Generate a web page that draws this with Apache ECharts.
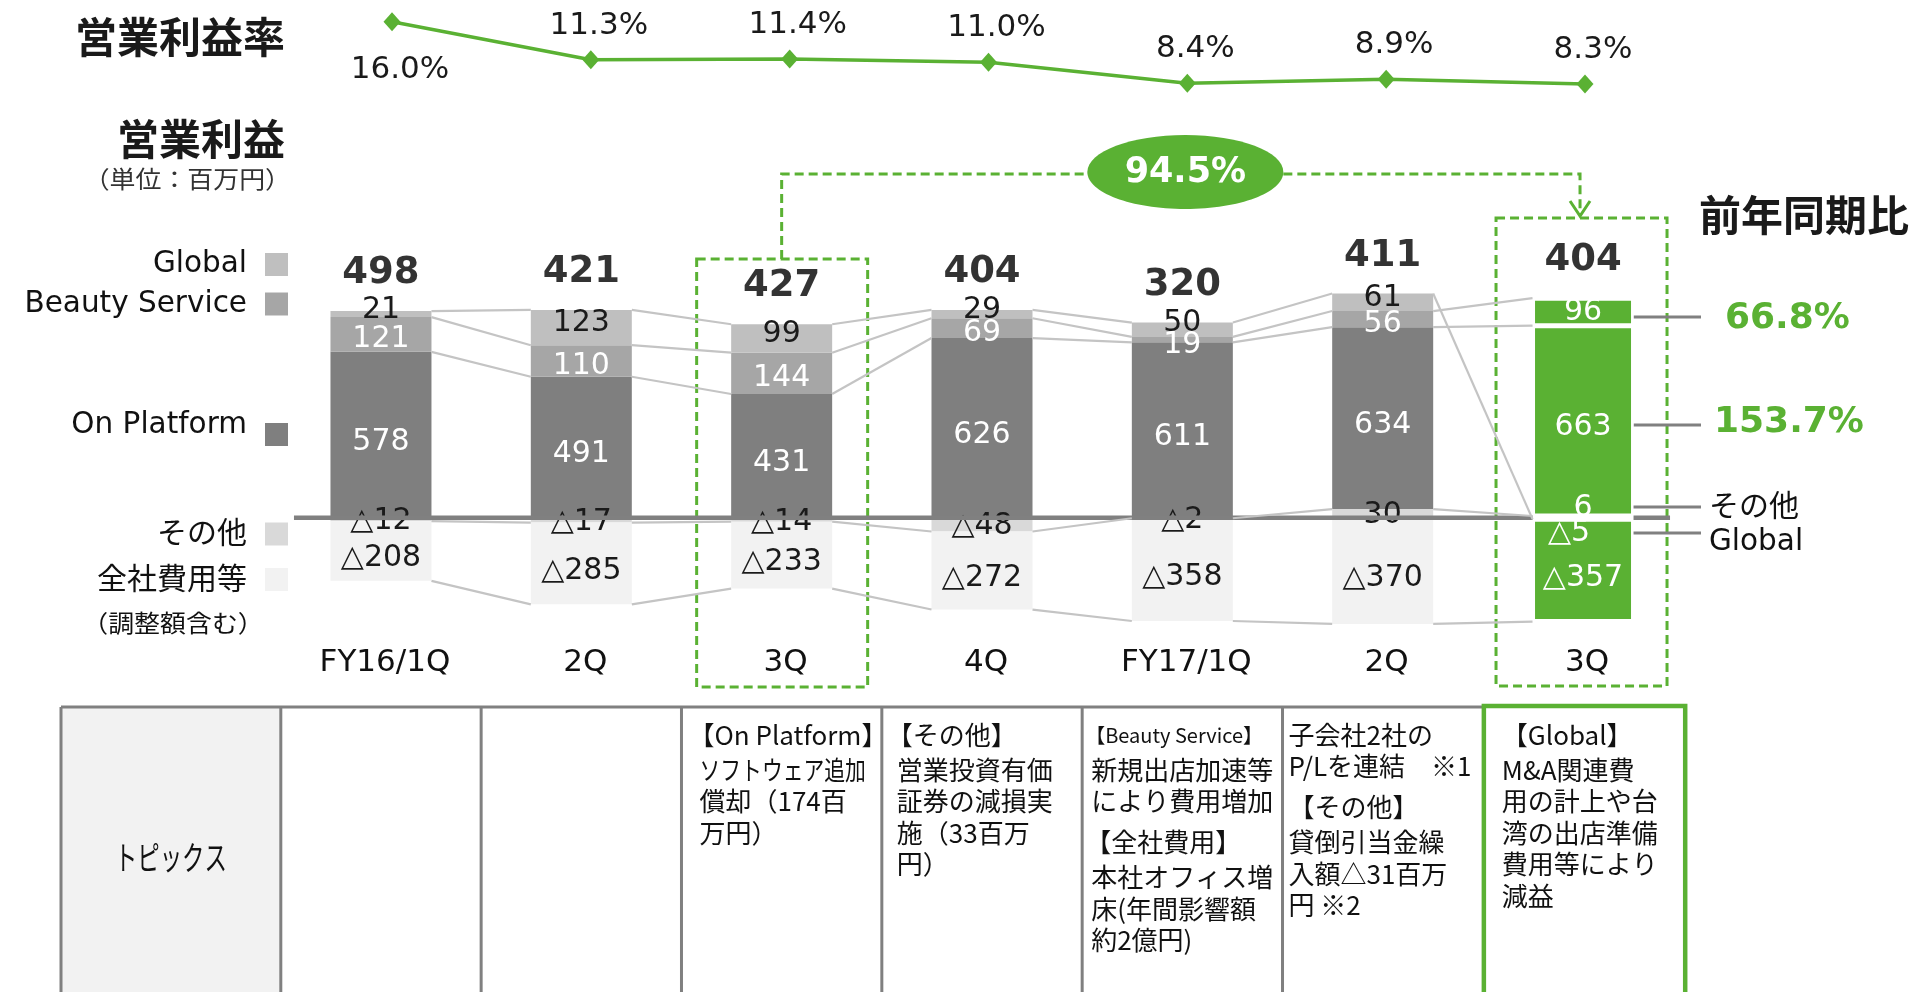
<!DOCTYPE html>
<html>
<head>
<meta charset="utf-8">
<title>営業利益</title>
<script src="https://cdn.jsdelivr.net/npm/echarts@6.0.0/dist/echarts.min.js"></script>
<style>
  html, body { margin: 0; padding: 0; background: #fff; }
  #main { width: 1914px; height: 992px; }
</style>
</head>
<body>
<div id="main"></div>
<script>
// ---- data ----
const quarters = ['FY16/1Q', '2Q', '3Q', '4Q', 'FY17/1Q', '2Q', '3Q']
const marginRate = [16.0, 11.3, 11.4, 11.0, 8.4, 8.9, 8.3]
const globalSeg = [21, 123, 99, 29, 50, 61, -5]
const beauty = [121, 110, 144, 69, 19, 56, 96]
const onPlatform = [578, 491, 431, 626, 611, 634, 663]
const others = [-12, -17, -14, -48, -2, 30, 6]
const corporate = [-208, -285, -233, -272, -358, -370, -357]
const totals = [498, 421, 427, 404, 320, 411, 404]
const yoyTotal = '94.5%'
const yoyBeauty = '66.8%'
const yoyOnPlatform = '153.7%'
const topics = [
  null,
  null,
  [{ head: '【On Platform】', body: ['ソフトウェア追加', '償却（174百', '万円）'] }],
  [{ head: '【その他】', body: ['営業投資有価', '証券の減損実', '施（33百万', '円）'] }],
  [{ head: '【Beauty Service】', body: ['新規出店加速等', 'により費用増加'] },
    { head: '【全社費用】', body: ['本社オフィス増', '床(年間影響額', '約2億円)'] }],
  [{ head: null, body: ['子会社2社の', 'P/Lを連結　※1'] },
    { head: '【その他】', body: ['貸倒引当金繰', '入額△31百万', '円 ※2'] }],
  [{ head: '【Global】', body: ['M&A関連費', '用の計上や台', '湾の出店準備', '費用等により', '減益'] }]
]

// ---- styles ----
const GREEN = '#5ab133'
const DARK_LINE = '#808080'
const NUM_FONT = 'DejaVu Sans'
const JP_FONT = '"Noto Sans CJK JP", sans-serif'
const BAR_W = 101
const HL = 6 // 比較対象の四半期（緑）
const CMP = 2 // 前年同期

// stack order from the baseline outwards
const segments = [
  { name: 'その他', data: others, color: '#d9d9d9', text: '#1a1a1a', dy: 2, lastDy: -9, lastDx: 0 },
  { name: 'On Platform', data: onPlatform, color: '#7f7f7f', text: '#fff', dy: 7, lastDy: 6, lastDx: 0 },
  { name: 'Beauty Service', data: beauty, color: '#a6a6a6', text: '#fff', dy: 5, lastDy: 0, lastDx: 0 },
  { name: 'Global', data: globalSeg, color: '#bfbfbf', text: '#1a1a1a', dy: -4, lastDy: 15, lastDx: -14 },
  { name: '全社費用等', data: corporate, color: '#f2f2f2', text: '#1a1a1a', dy: 7.5, lastDy: 7.5, lastDx: 0 }
]
// 小さいセグメントのラベル重なり回避
const nudge = { Global: { 4: -3 }, 'Beauty Service': { 4: 1 } }

const fmt = v => (v < 0 ? '△' + (-v) : String(v))

// end value of every segment in its own sign stack (for the series lines)
function segmentEnds (i) {
  let pos = 0
  let neg = 0
  return segments.map(s => {
    const v = s.data[i]
    if (v >= 0) { pos += v; return pos }
    neg += v
    return neg
  })
}
const positiveTotal = quarters.map((q, i) => segments.reduce((a, s) => a + Math.max(0, s.data[i]), 0))

function renderLinks (params, api) {
  const i = params.dataIndex
  const half = BAR_W / 2
  const kids = []
  if (i < quarters.length - 1) {
    const a = segmentEnds(i)
    const b = segmentEnds(i + 1)
    a.forEach((v, k) => {
      const p = api.coord([i, v])
      const q = api.coord([i + 1, b[k]])
      kids.push({
        type: 'line',
        shape: { x1: p[0] + half, y1: p[1], x2: q[0] - half, y2: q[1] },
        style: { stroke: '#c4c4c4', lineWidth: 2.2 }
      })
    })
  }
  if (i === 0) {
    // baseline, broken by the highlighted bar
    const z0 = api.coord([0, 0])
    const zl = api.coord([HL, 0])
    kids.push({ type: 'line', shape: { x1: z0[0] - 87, y1: z0[1], x2: zl[0] - half, y2: z0[1] }, style: { stroke: DARK_LINE, lineWidth: 4.5 } })
    kids.push({ type: 'line', shape: { x1: zl[0] + half, y1: z0[1], x2: zl[0] + 87, y2: z0[1] }, style: { stroke: DARK_LINE, lineWidth: 4.5 } })
  }
  return { type: 'group', children: kids }
}

const barSeries = segments.map(s => ({
  name: s.name,
  type: 'bar',
  stack: 'op',
  xAxisIndex: 1,
  yAxisIndex: 1,
  barWidth: BAR_W,
  z: 2,
  itemStyle: { color: s.color },
  label: {
    show: true,
    position: 'inside',
    fontFamily: NUM_FONT,
    fontSize: 30,
    formatter: p => fmt(p.value)
  },
  data: s.data.map((v, i) => {
    const last = i === HL
    const extra = (nudge[s.name] && nudge[s.name][i]) || 0
    return {
      value: v,
      itemStyle: last ? { color: GREEN, borderColor: '#fff', borderWidth: 2.5 } : undefined,
      label: {
        color: last ? '#fff' : s.text,
        offset: last ? [s.lastDx, s.lastDy] : [0, s.dy + extra]
      }
    }
  })
}))

const option = {
  animation: false,
  backgroundColor: '#fff',
  grid: [
    { left: 292.6, width: 1391.8, top: 5.5, height: 97.1 },
    { left: 280.8, width: 1402.4, top: 288.1, height: 344.4 }
  ],
  xAxis: [
    { type: 'category', gridIndex: 0, data: quarters, show: false },
    {
      type: 'category',
      gridIndex: 1,
      data: quarters,
      axisLine: { show: false },
      axisTick: { show: false },
      axisLabel: { margin: 15, fontSize: 31, color: '#111', fontFamily: NUM_FONT, padding: [0, 0, 0, 8] }
    }
  ],
  yAxis: [
    { type: 'value', gridIndex: 0, min: 6, max: 18, show: false },
    { type: 'value', gridIndex: 1, min: -400, max: 800, show: false }
  ],
  series: [
    {
      name: '営業利益率',
      type: 'line',
      xAxisIndex: 0,
      yAxisIndex: 0,
      symbol: 'diamond',
      symbolSize: [17, 19],
      lineStyle: { color: GREEN, width: 3.5 },
      itemStyle: { color: GREEN },
      label: {
        show: true,
        position: 'top',
        distance: 9,
        offset: [8, 0],
        fontFamily: NUM_FONT,
        fontSize: 31,
        color: '#1a1a1a',
        formatter: p => p.value.toFixed(1) + '%'
      },
      data: marginRate.map((v, i) => (i === 0 ? { value: v, label: { position: 'bottom', distance: 23 } } : v))
    },
    ...barSeries,
    {
      type: 'custom',
      xAxisIndex: 1,
      yAxisIndex: 1,
      z: 3,
      silent: true,
      renderItem: renderLinks,
      data: quarters.map((q, i) => i)
    },
    {
      name: '合計',
      type: 'scatter',
      xAxisIndex: 1,
      yAxisIndex: 1,
      symbolSize: 1,
      itemStyle: { color: 'rgba(0,0,0,0)' },
      silent: true,
      z: 5,
      label: {
        show: true,
        position: 'top',
        distance: 18.5,
        fontFamily: NUM_FONT,
        fontWeight: 'bold',
        fontSize: 37,
        color: '#000',
        formatter: p => String(totals[p.dataIndex])
      },
      data: positiveTotal.map((v, i) => [i, v])
    }
  ]
}

const chart = echarts.init(document.getElementById('main'))
chart.setOption(option)

function txt (text, x, y, opt) {
  return {
    type: 'text',
    silent: true,
    x: x,
    y: y,
    scaleX: opt.scaleX || 1,
    style: {
      text: text,
      x: 0,
      y: 0,
      align: opt.align || 'left',
      verticalAlign: 'middle',
      fill: opt.color || '#111',
      fontSize: opt.size,
      fontFamily: opt.font || JP_FONT,
      fontWeight: opt.bold ? 'bold' : 'normal'
    }
  }
}
function seg (x1, y1, x2, y2, color, width, dash) {
  return { type: 'line', silent: true, shape: { x1, y1, x2, y2 }, style: { stroke: color, lineWidth: width, lineDash: dash || null } }
}

function annotations () {
  const px = (i, v) => chart.convertToPixel({ gridIndex: 1 }, [i, v])
  const band = px(1, 0)[0] - px(0, 0)[0]
  const edge = i => px(i, 0)[0] - band / 2
  const cCmp = px(CMP, 0)[0]
  const cHl = px(HL, 0)[0]
  const g = []
  const dash = [9, 5]

  // titles
  g.push(txt('営業利益率', 285, 37, { size: 42, bold: true, align: 'right', color: '#1a1a1a' }))
  g.push(txt('営業利益', 285, 139, { size: 42, bold: true, align: 'right', color: '#1a1a1a' }))
  g.push(txt('（単位：百万円）', 291, 179, { size: 24, align: 'right', color: '#333', scaleX: 1.08 }))
  g.push(txt('前年同期比', 1699, 215, { size: 42, bold: true, color: '#1a1a1a' }))

  // left legend
  const legendRows = [
    ['Global', '#bfbfbf', 264, 264.5, NUM_FONT],
    ['Beauty Service', '#a6a6a6', 304, 304, NUM_FONT],
    ['On Platform', '#7f7f7f', 425, 434.5, NUM_FONT],
    ['その他', '#d9d9d9', 532, 534, JP_FONT],
    ['全社費用等', '#f2f2f2', 578, 579.5, JP_FONT]
  ]
  legendRows.forEach(r => {
    g.push(txt(r[0], 247, r[2], { size: r[4] === NUM_FONT ? 29.5 : 30, align: 'right', font: r[4] }))
    g.push({ type: 'rect', silent: true, shape: { x: 265, y: r[3] - 11.5, width: 23, height: 23 }, style: { fill: r[1] } })
  })
  g.push(txt('（調整額含む）', 173, 623, { size: 24, align: 'center', scaleX: 1.08 }))

  // dashed boxes around the compared quarters
  g.push({ type: 'rect', silent: true, shape: { x: cCmp - 85, y: 259, width: 171, height: 428 }, style: { fill: 'none', stroke: GREEN, lineWidth: 3, lineDash: dash } })
  g.push({ type: 'rect', silent: true, shape: { x: cHl - 87, y: 218, width: 171, height: 468 }, style: { fill: 'none', stroke: GREEN, lineWidth: 3, lineDash: dash } })

  // connector with the YoY bubble
  const mid = (cCmp + cHl) / 2 + 3
  g.push({ type: 'polyline', silent: true, shape: { points: [[cCmp, 259], [cCmp, 174], [mid - 98, 174]] }, style: { fill: 'none', stroke: GREEN, lineWidth: 3, lineDash: dash } })
  g.push({ type: 'polyline', silent: true, shape: { points: [[mid + 98, 174], [cHl - 3, 174], [cHl - 3, 214]] }, style: { fill: 'none', stroke: GREEN, lineWidth: 3, lineDash: dash } })
  g.push({ type: 'polyline', silent: true, shape: { points: [[cHl - 13, 201], [cHl - 3, 216], [cHl + 7, 201]] }, style: { fill: 'none', stroke: GREEN, lineWidth: 3 } })
  g.push({ type: 'ellipse', silent: true, shape: { cx: mid, cy: 172, rx: 98, ry: 37 }, style: { fill: GREEN } })
  g.push(txt(yoyTotal, mid, 173, { size: 35, bold: true, align: 'center', color: '#fff', font: NUM_FONT }))

  // right side call-outs
  const right = cHl + BAR_W / 2
  g.push(seg(right, 317, 1701, 317, DARK_LINE, 3))
  g.push(seg(right, 425, 1701, 425, DARK_LINE, 3))
  g.push(seg(cHl + 20, 507, 1701, 507, DARK_LINE, 3))
  g.push(seg(cHl + 20, 533, 1701, 533, DARK_LINE, 3))
  g.push(txt(yoyBeauty, 1725, 319, { size: 36, bold: true, color: GREEN, font: NUM_FONT }))
  g.push(txt(yoyOnPlatform, 1714, 423, { size: 36, bold: true, color: GREEN, font: NUM_FONT }))
  g.push(txt('その他', 1709, 505, { size: 30 }))
  g.push(txt('Global', 1709, 542, { size: 29.5, font: NUM_FONT }))

  // topics table
  const top = 707
  const bottom = 1000
  g.push({ type: 'rect', silent: true, shape: { x: 61, y: top, width: edge(0) - 61, height: bottom - top }, style: { fill: '#f2f2f2' } })
  g.push(txt('トピックス', (61 + edge(0)) / 2, 857, { size: 33, align: 'center', scaleX: 0.68 }))
  g.push(seg(61, top, edge(HL), top, DARK_LINE, 3))
  g.push(seg(61, top, 61, bottom, DARK_LINE, 3))
  for (let i = 0; i < HL; i++) g.push(seg(edge(i), top, edge(i), bottom, DARK_LINE, 3))
  g.push({ type: 'rect', silent: true, shape: { x: edge(HL) + 1, y: top - 1, width: band + 1, height: 300 }, style: { fill: 'none', stroke: GREEN, lineWidth: 4.5 } })

  const pad = { 2: [7, 18], 3: [5, 15], 4: [3, 9], 5: [6, 6], 6: [19, 19] }
  const headSize = { '【Beauty Service】': 20 }
  const squeeze = { 'ソフトウェア追加': 0.8 }
  topics.forEach((cell, c) => {
    if (!cell) return
    const x0 = edge(c)
    let y = 735
    let gap = 0
    cell.forEach((sec, k) => {
      if (k > 0) gap = 41
      if (sec.head) {
        y += gap
        g.push(txt(sec.head, x0 + pad[c][0], y, { size: headSize[sec.head] || 26 }))
        gap = 35
      }
      sec.body.forEach(line => {
        y += gap
        g.push(txt(line, x0 + pad[c][1], y, { size: 26, scaleX: squeeze[line] }))
        gap = 31.5
      })
    })
  })
  return g
}

chart.setOption({ graphic: annotations() })
</script>
</body>
</html>
